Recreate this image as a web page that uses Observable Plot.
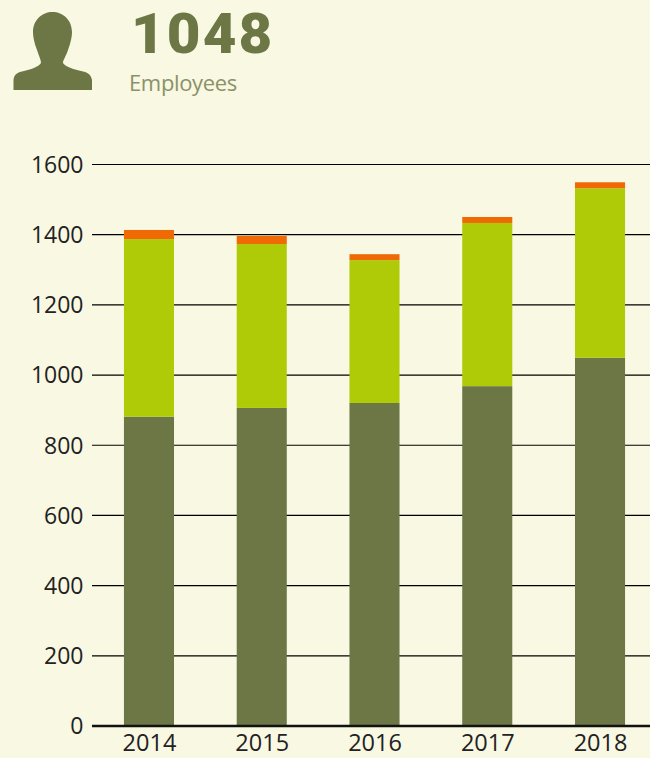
<!DOCTYPE html>
<html>
<head>
<meta charset="utf-8">
<script src="https://cdn.jsdelivr.net/npm/d3@7"></script>
<script src="https://cdn.jsdelivr.net/npm/@observablehq/plot@0.6"></script>
<style>
html,body{margin:0;padding:0;background:#f9f8e2;overflow:hidden}
#wrap{width:650px;height:758px;position:relative}
#head{position:relative;height:140px}
#head svg{position:absolute;left:0;top:0}
#num{position:absolute;left:131px;top:5px;font:900 56px Roboto,sans-serif;color:#6c7745;line-height:58px;letter-spacing:2px;transform:scaleX(1.04);transform-origin:left center}
#lab{position:absolute;left:129px;top:66px;font:400 22px "Open Sans",sans-serif;color:#8a9268;line-height:32px;letter-spacing:-.35px}
</style>
</head>
<body>
<div id="wrap">
<div id="head">
<svg width="110" height="100"><path fill="#6c7745" d="M13.5 90L13.5 80C14 74 18 72 24 71C32 69 38 67 41 63C41 60 39 56 37 50C34 42 33 36 33 32C33 20 42 12 52.5 12C63 12 72 20 72 32C72 36 71 42 68 50C66 56 63 60 63 63C66 67 73 69 81 71C87 72 91 74 92 80L92 90Z"/></svg>
<div id="num">1048</div>
<div id="lab">Employees</div>
</div>
<div id="chart"></div>
</div>
<script>
const years = ["2014","2015","2016","2017","2018"];
const base = [880,905,919,967,1048];
const middle = [506,467,407,465,483];
const top3 = [26,23,17,17,17];
const yTicks = [0,200,400,600,800,1000,1200,1400,1600];
const seriesNames = ["base","middle","top"];
const seriesColors = ["#6c7745","#afcb08","#ef6a05"];
const rows = years.flatMap((year,i)=>[
  {year,series:"base",value:base[i]},
  {year,series:"middle",value:middle[i]},
  {year,series:"top",value:top3[i]}
]);
const plot = Plot.plot({
  width:650,height:618,
  marginLeft:92,marginRight:0,marginTop:24,marginBottom:32.5,
  style:{background:"transparent",fontFamily:"'Open Sans',sans-serif",fontSize:"23px",color:"#222"},
  x:{domain:years,range:[92.6,656.4],paddingInner:0.556,paddingOuter:0.278,align:0.5,round:false,label:null},
  y:{domain:[0,1600],label:null},
  color:{domain:seriesNames,range:seriesColors},
  marks:[
    Plot.ruleY(yTicks.slice(1),{stroke:"#000",strokeWidth:1.2}),
    Plot.barY(rows,{x:"year",y:"value",fill:"series",order:seriesNames}),
    Plot.ruleY([0],{stroke:"#111",strokeWidth:2.5}),
    Plot.axisY({ticks:yTicks,tickSize:0,tickPadding:9,dy:1,tickFormat:d=>String(d),label:null,fontSize:23,fill:"#222"}),
    Plot.axisX({tickSize:0,tickPadding:8,label:null,fontSize:23.5,fill:"#222"})
  ]
});
document.getElementById("chart").appendChild(plot);
</script>
</body>
</html>
